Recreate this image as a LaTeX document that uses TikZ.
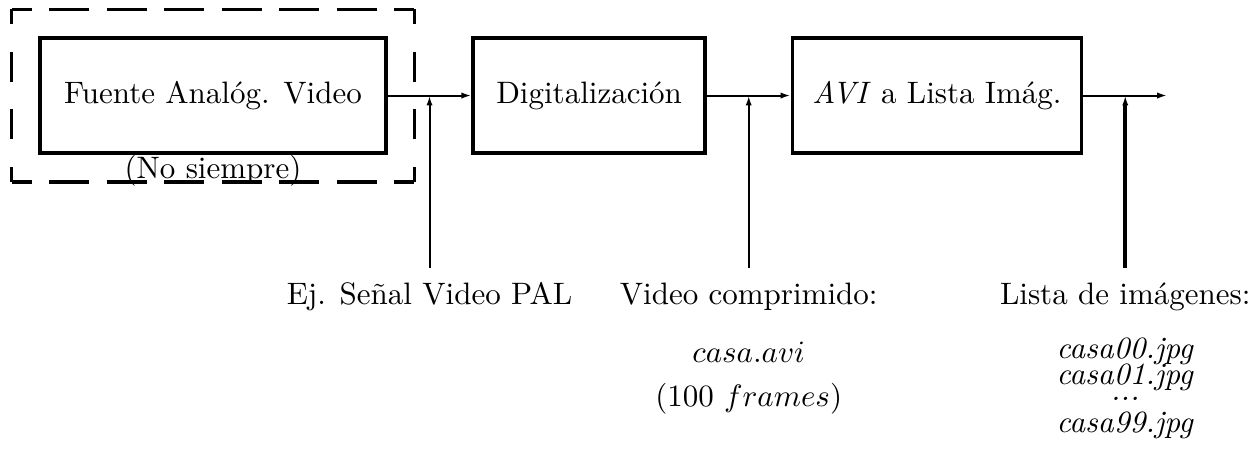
\documentclass[tikz,border=0pt]{standalone}
\usepackage{tikz}
\usetikzlibrary{arrows.meta,positioning,calc}
\tikzstyle{blk}   = [rectangle, draw, line width=1.1pt,
                     minimum height=1.30cm, inner sep=4pt]
\tikzstyle{lbl}   = [inner sep=4.5pt, align=center]
\tikzstyle{hdash} = [line width=1pt, dash pattern=on 12.9pt off 5.63pt,
                     dash phase=6.45pt]
\tikzstyle{vdash} = [line width=1pt, dash pattern=on 9.7pt off 8.89pt,
                     dash phase=4.85pt]

\begin{document}
\begin{tikzpicture}[>={Latex[length=3.2pt,width=2pt]}, line width=0.65pt]
  \useasboundingbox (-2.415,-4.10) rectangle (11.79,1.083);
  % bloques
  \node[blk, minimum width=3.92cm] (fuente) at (0,0) {Fuente Analóg. Video};
  \node[blk, minimum width=2.63cm, right=0.95cm of fuente] (digit) {Digitalización};
  \node[blk, minimum width=3.28cm, right=0.95cm of digit] (avi) {\textit{AVI} a Lista Imág.};
  \coordinate[right=0.95cm of avi] (fin);
  % recuadro opcional
  \node[minimum width=4.56cm, minimum height=1.96cm, inner sep=0pt, outer sep=0pt]
    (opcional) at (fuente) {};
  \draw[hdash] (opcional.north west) -- (opcional.north east);
  \draw[hdash] (opcional.south west) -- (opcional.south east);
  \draw[vdash] (opcional.north west) -- (opcional.south west);
  \draw[vdash] (opcional.north east) -- (opcional.south east);
  \node[below=0pt of fuente, inner sep=0pt] (nosiempre) {(No siempre)};
  % flujo
  \draw[->] (fuente) -- (digit);
  \draw[->] (digit) -- (avi);
  \draw[->] (avi) -- (fin);
  \coordinate (j1) at ($(fuente.east)!0.5!(digit.west)$);
  \coordinate (j2) at ($(digit.east)!0.5!(avi.west)$);
  \coordinate (j3) at ($(avi.east)!0.5!(fin)$);
  % etiquetas
  \node[lbl, below=1.95cm of j1] (senal) {Ej. Señal Video PAL};
  \node[lbl, below=1.95cm of j2] (video) {Video comprimido:\\[7pt]
    $casa.avi$\\[2pt] (100 $frames$)};
  \node[lbl, below=1.95cm of j3] (lista) {Lista de imágenes:\\[5.4pt]
    \textit{casa00.jpg}\\[-3.4pt] \textit{casa01.jpg}\\[-6.9pt]
    \textit{...}\\[-1.8pt] \textit{casa99.jpg}};
  \draw[->] (senal) -- (j1);
  \draw[->] (video) -- (j2);
  \draw[->, line width=1.2pt] (lista) -- (j3);
\end{tikzpicture}
\end{document}
